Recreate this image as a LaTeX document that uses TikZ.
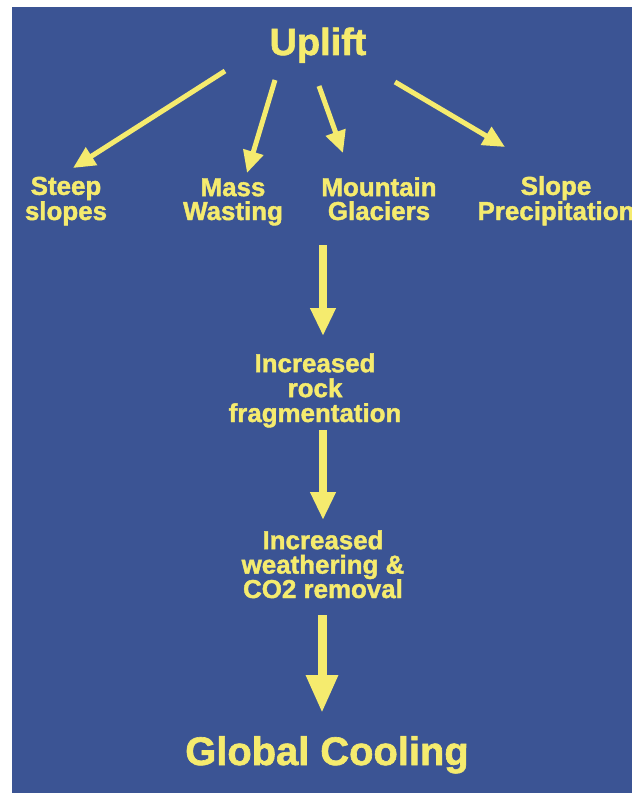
\documentclass[tikz,border=0pt]{standalone}
\usepackage{fontspec}
\setmainfont{Liberation Sans}
\newfontfamily\heavy{Liberation Sans Bold}[FakeBold=1.6]
\usetikzlibrary{arrows.meta}
\definecolor{bgblue}{RGB}{59,84,148}
\definecolor{ylw}{RGB}{245,235,110}
\begin{document}
\begin{tikzpicture}[x=1bp,y=-1bp,
  lbl/.style={text=ylw,font=\heavy\fontsize{26}{24}\selectfont,align=center,anchor=base,inner sep=0pt},
  big/.style={text=ylw,anchor=base,inner sep=0pt},
  thin/.style={draw=ylw,line width=5bp,-{Triangle[length=22bp,width=20bp]}},
  vert/.style={draw=ylw,line width=8bp,-{Triangle[length=28bp,width=24bp]}},
  vertbig/.style={draw=ylw,line width=9bp,-{Triangle[length=38bp,width=30bp]}}]
\useasboundingbox (0,0) rectangle (632,793);
\fill[white] (0,0) rectangle (632,793);
\fill[bgblue] (12,7) rectangle (632,793);
\node[big,font=\heavy\fontsize{38}{40}\selectfont] (up) at (318,55) {Uplift};
\node[lbl] (steep) at (66,220) {Steep\\slopes};
\node[lbl] (mass) at (233,220) {Mass\\Wasting};
\node[lbl] (mount) at (379,220) {Mountain\\Glaciers};
\node[lbl] (slope) at (556,220) {Slope\\Precipitation};
\node[lbl,font=\heavy\fontsize{26}{25}\selectfont] (frag) at (315,422) {Increased\\rock\\fragmentation};
\node[lbl,font=\heavy\fontsize{26}{24.5}\selectfont] (weath) at (323,598) {Increased\\weathering \&\\CO2 removal};
\node[big,font=\heavy\fontsize{40}{44}\selectfont] (gc) at (327,765) {Global Cooling};
\coordinate (a1s) at (225,71); \coordinate (a1e) at (73,168);
\coordinate (a2s) at (275,80); \coordinate (a2e) at (247,173);
\coordinate (a3s) at (319,86); \coordinate (a3e) at (343,153);
\coordinate (a4s) at (395,82); \coordinate (a4e) at (505,147);
\coordinate (v1s) at (323,245); \coordinate (v1e) at (323,336);
\coordinate (v2s) at (323,430); \coordinate (v2e) at (323,520);
\coordinate (v3s) at (322,615); \coordinate (v3e) at (322,713);
\draw[thin] (a1s) -- (a1e);
\draw[thin] (a2s) -- (a2e);
\draw[thin] (a3s) -- (a3e);
\draw[thin] (a4s) -- (a4e);
\draw[vert] (v1s) -- (v1e);
\draw[vert] (v2s) -- (v2e);
\draw[vertbig] (v3s) -- (v3e);
\end{tikzpicture}
\end{document}
